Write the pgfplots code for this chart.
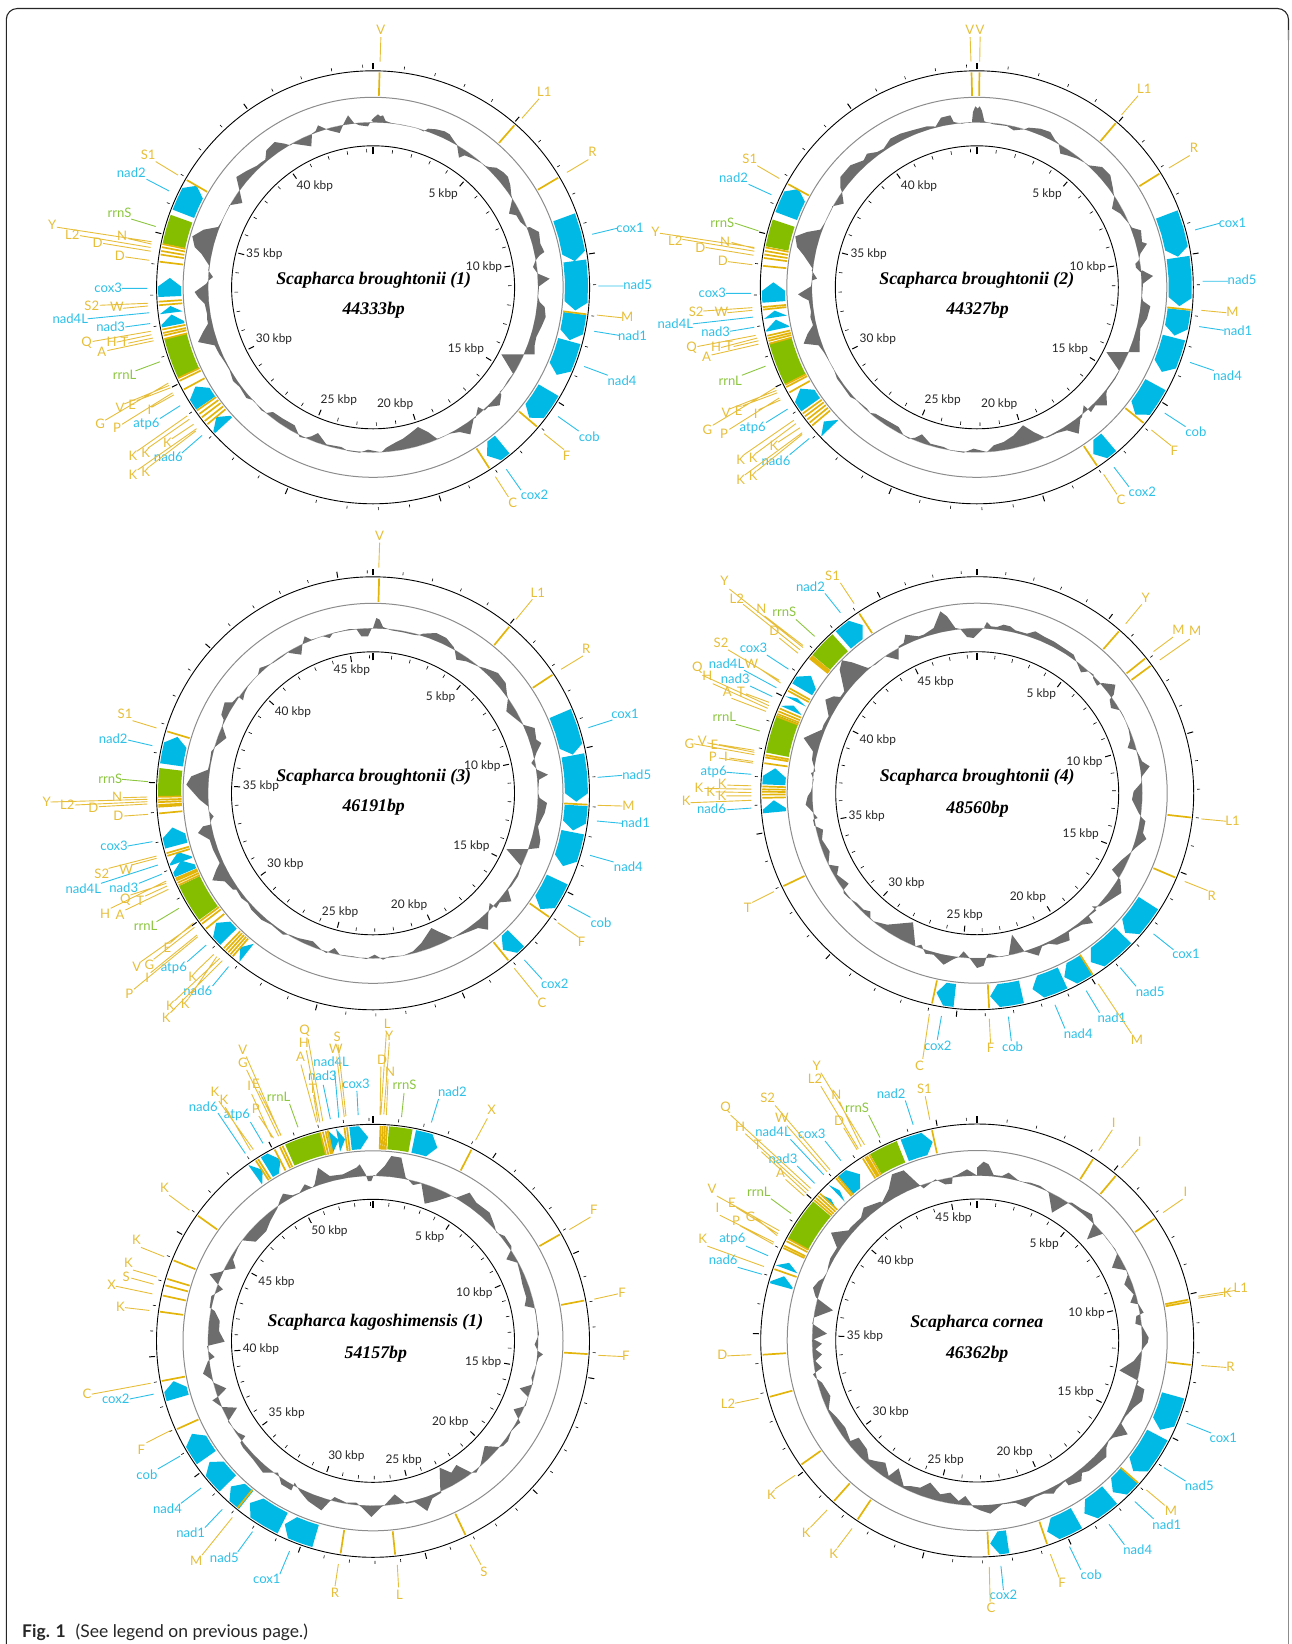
\documentclass[border=0pt]{standalone}
\usepackage{fontspec}
\setmainfont{Lato}
\newfontfamily\ttlfont{Liberation Serif}
\usepackage{pgfplots}
\pgfplotsset{compat=1.18}

\definecolor{mycyan}{HTML}{00B9E4}
\definecolor{mygreen}{HTML}{85BE00}
\definecolor{mygold}{HTML}{E3B40A}
\definecolor{labc}{HTML}{2CC0E8}
\definecolor{labg}{HTML}{E6BE3A}
\definecolor{labn}{HTML}{8CC63F}
\definecolor{ringgray}{HTML}{6D6D6D}

\tikzset{
  lb/.style={font=\fontsize{13.1}{14}\selectfont,inner sep=0pt},
  kb/.style={font=\fontsize{11.9}{14}\selectfont,inner sep=0pt,text=black!85},
  ttl/.style={font=\fontsize{17.8}{20}\selectfont\ttlfont\bfseries\itshape,inner sep=0pt,text=black},
}
\pgfplotsset{
  tickmin/.style={draw=black,line width=.6pt},
  tickmaj/.style={draw=black,line width=1pt},
  tickzero/.style={draw=black,line width=2pt},
  gc/.style={fill=ringgray,draw=none},
  genefill/.style={fill=mycyan,draw=none},
  rnafill/.style={fill=mygreen,draw=none},
  trnaline/.style={draw=mygold,line width=1.7pt},
  leadg/.style={draw=labg,line width=.9pt},
  leadc/.style={draw=labc,line width=.9pt},
  leadn/.style={draw=labn,line width=.9pt},
}

% centre x, centre y, crop x, crop y, crop scale x, crop scale y, length in kbp
\newcommand\setpanel[7]{%
  \gdef\cx{#1}\gdef\cy{#2}\gdef\ox{#3}\gdef\oy{#4}\gdef\sx{#5}\gdef\sy{#6}\gdef\glen{#7}}
\gdef\pts{}
\gdef\ldg{}\gdef\ldc{}\gdef\ldn{}
\newcommand\emit[1]{\edef\tmp{\noexpand\addplot[#1] coordinates {\pts};}\tmp\gdef\pts{}}
\newcommand\addpol[2]{%
  \pgfmathsetmacro\px{\cx+(#2)*sin(#1)}%
  \pgfmathsetmacro\py{\cy-(#2)*cos(#1)}%
  \xdef\pts{\pts(\px,\py)}}
\newcommand\brk{\xdef\pts{\pts(nan,nan)}}
\newcommand\getang[2]{%
  \pgfmathsetmacro\ptx{\ox+#1/\sx}\pgfmathsetmacro\pty{\oy+#2/\sy}%
  \pgfmathsetmacro\dxx{\ptx-\cx}\pgfmathsetmacro\dyy{\cy-\pty}%
  \pgfmathsetmacro\res{atan2(\dxx,\dyy)}%
  \pgfmathsetmacro\res{\res<0 ? \res+360 : \res}}

\newcommand\panelbase{%
  \edef\tmp{\noexpand\draw[black,line width=.9pt] (axis cs:\cx,\cy) circle[radius=216.5];
    \noexpand\draw[black!45,line width=1pt] (axis cs:\cx,\cy) circle[radius=190];
    \noexpand\draw[black,line width=.9pt] (axis cs:\cx,\cy) circle[radius=141.5];
    \noexpand\draw[black!25,line width=.6pt] (axis cs:\cx,\cy) circle[radius=165];}\tmp
  \pgfmathtruncatemacro\nk{int(\glen)}%
  \foreach \k in {1,...,\nk}{%
    \pgfmathtruncatemacro\m{mod(\k,5)}%
    \ifnum\m=0\else
      \pgfmathsetmacro\th{\k/\glen*360}%
      \addpol{\th}{135}\addpol{\th}{138.6}\brk
      \addpol{\th}{220}\addpol{\th}{223}\brk
    \fi}%
  \emit{tickmin}%
  \foreach \k in {5,10,...,\nk}{%
    \pgfmathsetmacro\th{\k/\glen*360}%
    \addpol{\th}{133}\addpol{\th}{139}\brk
    \addpol{\th}{218.5}\addpol{\th}{224.5}\brk}%
  \emit{tickmaj}%
  \addpol{0}{133}\addpol{0}{140}\brk\addpol{0}{218}\addpol{0}{224.5}%
  \emit{tickzero}}

% outline of the GC trace, read clockwise from a 3x crop at (#1,#2), closed along the r=165 circle
\newcommand\ring[3]{%
  \gdef\first{}%
  \foreach \a/\b in {#3}{%
    \pgfmathsetmacro\px{#1+\a/3}\pgfmathsetmacro\py{#2+\b/3}%
    \ifx\first\empty
      \pgfmathsetmacro\tz{atan2(\px-\cx,\cy-\py)}\xdef\first{\tz}%
    \fi
    \xdef\pts{\pts(\px,\py)}}%
  \foreach \i in {0,...,72}{%
    \pgfmathsetmacro\t{\first-5*\i}\addpol{\t}{165}}%
  \emit{gc}}

\newcommand\gene[4]{%
  \getang{#1}{#2}\let\aa\res
  \getang{#3}{#4}\let\ab\res
  \pgfmathsetmacro\ab{\ab<\aa ? \ab+360 : \ab}%
  \pgfmathsetmacro\as{max(\ab-2.4,\aa)}%
  \pgfmathsetmacro\am{(\aa+\as)/2}%
  \addpol{\aa}{192}\addpol{\aa}{215}\addpol{\am}{215}\addpol{\as}{215}%
  \addpol{\ab}{203.5}\addpol{\as}{192}\addpol{\am}{192}%
  \emit{genefill}}

\newcommand\rrna[4]{%
  \getang{#1}{#2}\let\aa\res
  \getang{#3}{#4}\let\ab\res
  \pgfmathsetmacro\ab{\ab<\aa ? \ab+360 : \ab}%
  \foreach \i in {0,...,6}{\pgfmathsetmacro\t{\aa+(\ab-\aa)*\i/6}\addpol{\t}{215}}%
  \foreach \i in {6,5,...,0}{\pgfmathsetmacro\t{\aa+(\ab-\aa)*\i/6}\addpol{\t}{192}}%
  \emit{rnafill}}

\newcommand\trnas[1]{%
  \foreach \a/\b in {#1}{%
    \getang{\a}{\b}%
    \addpol{\res}{191.5}\addpol{\res}{215}\brk}%
  \emit{trnaline}}

% colour letter, text, label x, y, leader x1, y1, x2, y2 (all in crop pixels)
\newcommand\lb[8]{%
  \pgfmathsetmacro\lx{\ox+#3/\sx}\pgfmathsetmacro\ly{\oy+#4/\sy}%
  \edef\tmp{\noexpand\node[lb,text=lab#1] at (axis cs:\lx,\ly) {\unexpanded{#2}};}\tmp
  \pgfmathsetmacro\xa{\ox+#5/\sx}\pgfmathsetmacro\ya{\oy+#6/\sy}%
  \pgfmathsetmacro\xb{\ox+#7/\sx}\pgfmathsetmacro\yb{\oy+#8/\sy}%
  \expandafter\xdef\csname ld#1\endcsname{\csname ld#1\endcsname(\xa,\ya)(\xb,\yb)(nan,nan)}}
\newcommand\flushleads{%
  \edef\tmp{\noexpand\addplot[leadg] coordinates {\ldg};
    \noexpand\addplot[leadc] coordinates {\ldc};
    \noexpand\addplot[leadn] coordinates {\ldn};}\tmp
  \gdef\ldg{}\gdef\ldc{}\gdef\ldn{}}
\newcommand\kbl[3]{%
  \pgfmathsetmacro\lx{\ox+#2/\sx}\pgfmathsetmacro\ly{\oy+#3/\sy}%
  \edef\tmp{\noexpand\node[kb] at (axis cs:\lx,\ly) {#1 kbp};}\tmp}
\newcommand\ttlb[3]{%
  \pgfmathsetmacro\lx{\ox+#2/\sx}\pgfmathsetmacro\ly{\oy+#3/\sy}%
  \edef\tmp{\noexpand\node[ttl] at (axis cs:\lx,\ly) {\unexpanded{#1}};}\tmp}

\begin{document}
\begin{tikzpicture}
\useasboundingbox (0,0) rectangle (1292pt,1644pt);
\begin{axis}[
    anchor=south west,at={(0,0)},
    scale only axis,width=1292pt,height=1644pt,
    xmin=0,xmax=1292,ymin=0,ymax=1644,y dir=reverse,
    hide axis,clip=false,unbounded coords=jump,
  ]
\draw[black!85,line width=1.1pt,rounded corners=11pt]
  (axis cs:6.3,1644) -- (axis cs:6.3,8.5) -- (axis cs:1288.5,8.5) -- (axis cs:1288.5,40);
\draw[black!45,line width=1pt] (axis cs:1288.5,30) -- (axis cs:1288.5,1644);

%% panel 1
\setpanel{373.1}{287.3}{0}{0}{2.376}{2.958}{44.333}
\panelbase
\ring{183}{97}{570/75,565/70,575/60,585/52,592/58,600/55,608/72,625/78,660/85,700/93,722/103,
  735/95,760/97,785/103,800/112,812/130,818/138,822/143,828/182,845/175,870/185,895/198,908/207,
  918/210,940/212,960/225,975/240,982/265,985/295,988/305,978/350,1000/355,1012/375,1032/392,
  1040/390,1068/405,1072/440,1084/465,1070/475,1058/490,1050/510,1062/527,1065/530,1100/545,1068/568,
  1065/600,1070/615,1085/630,1088/660,1075/690,1060/720,1055/745,1055/772,1025/772,955/772,990/830,
  975/850,960/875,950/885,955/893,950/925,915/930,905/940,885/930,878/962,872/965,862/1012,830/1005,
  800/1010,772/1022,762/1025,735/1005,705/990,680/1010,660/1025,640/1035,610/1052,595/1066,
  555/1058,530/1067,495/1062,475/1050,430/1042,405/1008,385/1018,365/1023,350/1020,335/985,300/965,
  270/945,250/948,235/940,212/910,190/903,170/870,150/852,140/820,125/795,108/770,95/745,45/735,
  60/705,75/680,72/665,72/650,65/620,45/600,35/585,70/560,75/552,90/540,76/520,78/505,55/470,35/450,
  28/418,62/398,105/390,115/375,130/345,140/325,137/325,178/318,170/282,167/270,160/240,190/222,
  222/206,232/198,247/188,250/160,275/135,305/140,322/145,330/140,385/148,387/110,398/102,405/85,
  438/100,470/108,482/80,495/55,513/78,530/85,555/88,562/75}
\gene{1342}{642}{1362}{773}\gene{1366}{772}{1365}{918}\gene{1363}{927}{1350}{1005}
\gene{1350}{1008}{1325}{1110}\gene{1295}{1148}{1262}{1240}\gene{1192}{1313}{1165}{1362}
\gene{491}{1190}{462}{1145}\gene{532}{1257}{503}{1245}\gene{404}{877}{402}{822}
\gene{408}{925}{407}{905}\gene{412}{962}{410}{930}\gene{435}{632}{468}{550}
\rrna{445}{1105}{415}{995}\rrna{413}{727}{427}{645}
\trnas{901/250,1203/398,1300/545,1364/925,1255/1240,1147/1355,468/550,
  410/728,410/737,410/748,408/758,405/778,405/890,405/900,
  413/968,413/978,415/985,415/995,450/1103,454/1110,462/1135,
  490/1195,495/1205,500/1215,507/1225,512/1235}
\lb{g}{V}{905}{88}{905}{110}{903}{182}
\lb{g}{L1}{1293}{272}{1281}{292}{1240}{350}
\lb{g}{R}{1408}{450}{1398}{472}{1347}{510}
\lb{c}{cox1}{1497}{673}{1467}{675}{1407}{693}
\lb{c}{nad5}{1515}{843}{1482}{846}{1422}{846}
\lb{g}{M}{1490}{938}{1478}{940}{1418}{932}
\lb{c}{nad1}{1503}{992}{1471}{992}{1412}{980}
\lb{c}{nad4}{1478}{1125}{1444}{1110}{1388}{1084}
\lb{c}{cob}{1400}{1291}{1375}{1275}{1326}{1232}
\lb{g}{F}{1346}{1347}{1340}{1330}{1293}{1283}
\lb{c}{cox2}{1270}{1463}{1238}{1450}{1203}{1388}
\lb{g}{C}{1218}{1487}{1208}{1470}{1177}{1410}
\lb{g}{S1}{352}{458}{370}{478}{423}{518}
\lb{c}{nad2}{312}{512}{348}{530}{402}{565}
\lb{n}{rrnS}{284}{628}{312}{648}{370}{670}
\lb{g}{Y}{124}{666}{135}{672}{360}{715}
\lb{g}{L2}{172}{693}{190}{697}{358}{732}
\lb{g}{N}{290}{698}{305}{706}{360}{722}
\lb{g}{D}{232}{717}{245}{720}{358}{743}
\lb{g}{D}{285}{758}{298}{760}{355}{770}
\lb{c}{cox3}{257}{852}{290}{853}{350}{853}
\lb{g}{S2}{218}{905}{237}{903}{352}{897}
\lb{g}{W}{278}{908}{292}{912}{352}{905}
\lb{c}{nad4L}{167}{943}{208}{943}{355}{925}
\lb{c}{nad3}{263}{965}{298}{967}{357}{957}
\lb{g}{Q}{206}{1013}{220}{1010}{358}{980}
\lb{g}{H}{265}{1011}{277}{1012}{360}{990}
\lb{g}{T}{296}{1010}{305}{1015}{363}{1000}
\lb{g}{A}{242}{1040}{255}{1037}{365}{1008}
\lb{n}{rrnL}{296}{1110}{322}{1097}{380}{1070}
\lb{g}{G}{238}{1253}{250}{1243}{400}{1133}
\lb{g}{V}{285}{1207}{295}{1195}{402}{1140}
\lb{g}{E}{314}{1198}{325}{1185}{405}{1147}
\lb{g}{P}{278}{1265}{290}{1255}{410}{1162}
\lb{g}{I}{355}{1213}{360}{1205}{413}{1168}
\lb{c}{atp6}{348}{1253}{380}{1238}{428}{1200}
\lb{g}{K}{316}{1347}{325}{1335}{445}{1230}
\lb{g}{K}{346}{1340}{352}{1325}{450}{1240}
\lb{g}{K}{398}{1310}{408}{1298}{460}{1255}
\lb{g}{K}{316}{1405}{327}{1390}{467}{1268}
\lb{g}{K}{346}{1395}{355}{1380}{465}{1275}
\lb{c}{nad6}{400}{1350}{432}{1340}{480}{1288}
\flushleads
\kbl{40}{748}{551}\kbl{5}{1053}{573}\kbl{35}{628}{753}\kbl{10}{1150}{789}
\kbl{30}{651}{1002}\kbl{15}{1107}{1033}\kbl{25}{805}{1183}\kbl{20}{939}{1195}
\ttlb{Scapharca broughtonii (1)}{888}{828}\ttlb{44333bp}{888}{918}

%% panel 2
\setpanel{976.8}{287.3}{640}{0}{2.405}{2.958}{44.327}
\panelbase
\ring{787}{97}{555/73,558/45,565/28,572/35,578/28,585/42,592/73,620/82,660/87,680/100,712/97,
  725/92,760/95,790/105,805/130,815/140,820/170,840/175,870/185,895/198,905/205,945/210,970/235,
  978/275,980/290,982/300,975/335,1000/350,1030/385,1035/392,1062/400,1065/435,1080/440,1060/470,
  1055/490,1045/500,1047/512,1060/525,1065/520,1098/537,1068/560,1065/600,1068/612,1090/628,1080/665,
  1060/695,1058/735,1058/765,1030/765,958/765,997/822,985/845,960/880,958/890,960/925,925/925,912/945,
  890/925,885/960,880/965,875/1010,840/1000,810/1008,780/1022,775/1022,740/1005,708/985,680/1015,
  650/1035,620/1045,600/1065,560/1055,530/1067,490/1060,470/1050,430/1040,405/1012,385/1022,365/1025,
  350/1015,335/990,300/970,265/950,250/948,240/935,210/910,190/900,165/865,150/845,140/815,125/790,
  110/765,95/745,50/740,62/710,78/685,70/660,72/645,65/610,45/600,33/592,72/568,75/550,90/545,74/520,
  77/515,50/475,30/450,25/418,60/405,100/398,115/375,128/350,135/335,135/328,170/320,165/285,160/272,
  160/240,190/205,230/190,240/170,270/165,290/155,310/125,340/110,375/100,420/88,440/88,445/90,462/62,
  490/55,500/75,525/80,550/75}
\gene{1270}{633}{1290}{760}\gene{1293}{762}{1293}{905}\gene{1292}{915}{1287}{993}
\gene{1282}{998}{1255}{1100}\gene{1240}{1138}{1195}{1230}\gene{1127}{1308}{1100}{1360}
\gene{413}{1195}{385}{1150}\gene{458}{1265}{430}{1260}\gene{322}{893}{320}{835}
\gene{328}{938}{330}{918}\gene{331}{974}{330}{945}\gene{354}{640}{390}{565}
\rrna{375}{1120}{340}{1005}\rrna{330}{735}{345}{660}
\trnas{798/250,816/250,1125/392,1224/533,1297/913,1188/1228,1083/1348,382/562,
  328/738,328/748,327/758,327/768,325/790,325/905,325/912,
  335/985,335/993,336/1000,337/1008,375/1122,378/1128,385/1143,
  412/1205,418/1212,424/1220,430/1228,436/1236}
\lb{g}{V}{793}{88}{794}{110}{796}{182}
\lb{g}{V}{818}{88}{818}{108}{817}{182}
\lb{g}{L1}{1213}{262}{1198}{283}{1158}{340}
\lb{g}{R}{1332}{438}{1322}{460}{1272}{497}
\lb{c}{cox1}{1425}{658}{1395}{660}{1335}{680}
\lb{c}{nad5}{1448}{828}{1414}{832}{1353}{832}
\lb{g}{M}{1425}{923}{1410}{925}{1350}{918}
\lb{c}{nad1}{1438}{977}{1404}{977}{1345}{966}
\lb{c}{nad4}{1413}{1111}{1380}{1096}{1323}{1072}
\lb{c}{cob}{1337}{1278}{1312}{1262}{1262}{1222}
\lb{g}{F}{1285}{1333}{1277}{1318}{1230}{1272}
\lb{c}{cox2}{1208}{1455}{1176}{1440}{1140}{1382}
\lb{g}{C}{1157}{1478}{1147}{1462}{1115}{1403}
\lb{g}{S1}{264}{470}{282}{490}{335}{528}
\lb{c}{nad2}{225}{525}{261}{545}{316}{576}
\lb{n}{rrnS}{198}{660}{228}{660}{285}{683}
\lb{g}{Y}{37}{686}{48}{690}{275}{732}
\lb{g}{L2}{85}{712}{102}{708}{275}{743}
\lb{g}{N}{205}{714}{220}{717}{275}{735}
\lb{g}{D}{145}{734}{158}{732}{273}{755}
\lb{g}{D}{199}{771}{212}{774}{270}{783}
\lb{c}{cox3}{174}{866}{207}{868}{267}{868}
\lb{g}{S2}{135}{921}{152}{920}{270}{910}
\lb{g}{W}{196}{921}{210}{925}{270}{918}
\lb{c}{nad4L}{85}{958}{127}{958}{272}{938}
\lb{c}{nad3}{182}{980}{216}{980}{275}{968}
\lb{g}{Q}{124}{1028}{138}{1025}{278}{992}
\lb{g}{H}{183}{1025}{195}{1028}{282}{1000}
\lb{g}{T}{214}{1023}{225}{1025}{285}{1008}
\lb{g}{A}{160}{1054}{172}{1050}{285}{1018}
\lb{n}{rrnL}{217}{1125}{245}{1110}{302}{1083}
\lb{g}{G}{162}{1270}{175}{1258}{325}{1147}
\lb{g}{V}{207}{1222}{215}{1210}{328}{1155}
\lb{g}{E}{237}{1215}{247}{1200}{330}{1162}
\lb{g}{P}{202}{1282}{215}{1270}{335}{1177}
\lb{g}{I}{278}{1225}{285}{1212}{338}{1183}
\lb{c}{atp6}{271}{1266}{303}{1250}{355}{1210}
\lb{g}{K}{242}{1360}{250}{1345}{370}{1243}
\lb{g}{K}{272}{1353}{280}{1340}{375}{1253}
\lb{g}{K}{322}{1320}{332}{1308}{385}{1265}
\lb{g}{K}{242}{1418}{252}{1405}{390}{1280}
\lb{g}{K}{272}{1408}{282}{1392}{390}{1285}
\lb{c}{nad6}{327}{1362}{360}{1345}{407}{1297}
\flushleads
\kbl{40}{671}{551}\kbl{5}{979}{573}\kbl{35}{550}{753}\kbl{10}{1077}{789}
\kbl{30}{572}{1002}\kbl{15}{1034}{1033}\kbl{25}{728}{1183}\kbl{20}{864}{1195}
\ttlb{Scapharca broughtonii (2)}{810}{828}\ttlb{44327bp}{812}{918}

%% panel 3
\setpanel{373}{793.3}{0}{520}{2.376}{3}{46.191}
\panelbase
\ring{183}{603}{570/75,580/45,590/50,600/72,625/82,660/88,690/95,705/97,720/92,760/90,790/105,812/132,
  815/140,820/170,850/175,885/190,905/195,945/210,968/240,972/275,975/285,970/325,995/345,1020/365,
  1030/368,1055/375,1060/410,1075/420,1060/450,1055/465,1045/480,1060/497,1062/500,1095/515,1068/530,
  1065/570,1070/585,1092/600,1085/630,1065/670,1072/710,1068/735,1040/738,970/738,1015/790,1005/820,
  985/850,975/860,985/895,950/898,940/915,920/900,915/940,915/945,915/980,885/975,860/985,820/1000,
  810/1005,765/985,745/975,715/1020,690/1045,660/1058,620/1060,600/1070,575/1055,550/1068,510/1060,
  470/1055,455/1035,430/1050,415/1040,390/1015,345/1005,320/995,300/995,265/965,235/950,205/920,
  195/900,175/885,160/860,150/860,125/835,88/832,100/800,110/780,90/740,80/710,45/690,60/670,82/665,
  85/650,92/640,78/625,75/610,50/590,10/545,25/520,75/500,80/480,85/445,95/435,92/435,130/405,118/368,
  122/350,115/335,125/298,148/298,165/280,180/292,185/270,195/250,225/215,230/195,245/190,270/180,
  300/160,315/148,320/150,355/155,358/125,365/100,385/110,420/100,440/105,450/90,500/78,520/78,
  535/100,555/100,565/78}
\gene{1332}{580}{1355}{705}\gene{1362}{706}{1368}{845}\gene{1367}{856}{1365}{932}
\gene{1358}{936}{1335}{1037}\gene{1323}{1078}{1285}{1168}\gene{1222}{1250}{1200}{1297}
\gene{543}{1250}{517}{1205}\gene{585}{1300}{563}{1293}\gene{415}{978}{412}{922}
\gene{420}{1030}{408}{1002}\gene{437}{1060}{418}{1027}\gene{410}{735}{420}{650}
\rrna{500}{1175}{447}{1085}\rrna{405}{828}{405}{748}
\trnas{900/210,1192/348,1288/485,1367/852,1281/1170,1189/1292,423/644,
  404/830,404/838,404/845,404/853,404/858,405/877,422/990,425/997,
  442/1062,443/1068,445/1075,447/1082,495/1185,500/1192,510/1205,
  546/1266,551/1272,556/1278,561/1284,566/1290}
\lb{g}{V}{902}{47}{902}{68}{900}{143}
\lb{g}{L1}{1278}{217}{1265}{238}{1226}{298}
\lb{g}{R}{1393}{386}{1385}{408}{1333}{448}
\lb{c}{cox1}{1485}{581}{1455}{600}{1398}{623}
\lb{c}{nad5}{1513}{765}{1478}{766}{1420}{772}
\lb{g}{M}{1493}{857}{1479}{858}{1420}{856}
\lb{c}{nad1}{1510}{909}{1478}{910}{1418}{903}
\lb{c}{nad4}{1493}{1041}{1458}{1026}{1402}{1006}
\lb{c}{cob}{1428}{1208}{1403}{1192}{1350}{1156}
\lb{g}{F}{1382}{1266}{1375}{1252}{1325}{1208}
\lb{c}{cox2}{1318}{1392}{1288}{1378}{1246}{1320}
\lb{g}{C}{1288}{1447}{1278}{1432}{1222}{1345}
\lb{g}{S1}{297}{581}{315}{602}{372}{624}
\lb{c}{nad2}{269}{656}{304}{660}{362}{677}
\lb{n}{rrnS}{262}{777}{290}{778}{352}{785}
\lb{g}{Y}{111}{845}{120}{846}{350}{838}
\lb{g}{N}{278}{830}{292}{833}{350}{831}
\lb{g}{L2}{160}{855}{178}{855}{350}{845}
\lb{g}{D}{222}{863}{235}{860}{350}{852}
\lb{g}{D}{281}{887}{295}{888}{352}{883}
\lb{c}{cox3}{271}{978}{303}{978}{362}{965}
\lb{g}{S2}{242}{1060}{258}{1045}{372}{1008}
\lb{g}{W}{300}{1050}{312}{1035}{372}{1015}
\lb{c}{nad4L}{198}{1106}{240}{1090}{375}{1035}
\lb{c}{nad3}{294}{1103}{330}{1090}{385}{1062}
\lb{g}{Q}{298}{1140}{310}{1125}{395}{1090}
\lb{g}{T}{333}{1142}{345}{1128}{397}{1098}
\lb{g}{H}{250}{1180}{263}{1165}{395}{1083}
\lb{g}{A}{285}{1185}{298}{1170}{400}{1108}
\lb{n}{rrnL}{346}{1218}{372}{1205}{425}{1165}
\lb{g}{E}{398}{1283}{405}{1268}{460}{1208}
\lb{g}{V}{325}{1340}{335}{1325}{455}{1218}
\lb{g}{G}{355}{1333}{365}{1318}{462}{1222}
\lb{c}{atp6}{413}{1343}{445}{1325}{490}{1275}
\lb{g}{I}{350}{1372}{358}{1358}{468}{1245}
\lb{g}{P}{307}{1422}{318}{1408}{470}{1250}
\lb{g}{K}{458}{1370}{465}{1355}{508}{1303}
\lb{c}{nad6}{470}{1412}{505}{1398}{543}{1340}
\lb{g}{K}{440}{1450}{448}{1435}{515}{1310}
\lb{g}{K}{405}{1457}{415}{1442}{522}{1315}
\lb{g}{K}{395}{1492}{405}{1478}{528}{1322}
\flushleads
\kbl{45}{836}{451}\kbl{5}{1047}{532}\kbl{40}{696}{575}\kbl{10}{1146}{737}
\kbl{35}{620}{799}\kbl{15}{1120}{977}\kbl{30}{678}{1031}\kbl{20}{972}{1155}\kbl{25}{808}{1176}
\ttlb{Scapharca broughtonii (3)}{888}{771}\ttlb{46191bp}{888}{863}

%% panel 4
\setpanel{977.2}{793.2}{640}{540}{2.405}{2.958}{48.56}
\panelbase
\ring{787}{603}{592/72,600/57,612/70,630/72,650/65,670/70,685/82,720/92,745/85,770/100,800/115,830/135,
  860/155,868/175,882/208,905/205,920/215,918/225,930/248,945/240,985/245,980/275,968/290,972/315,
  1000/322,1010/340,1025/380,1030/410,1022/435,1048/442,1058/460,1065/475,1088/490,1065/520,1062/540,
  1040/565,1035/590,1055/630,1065/645,1075/655,1068/690,1078/708,1045/735,1035/745,1005/770,975/800,
  995/825,1000/830,1003/870,940/910,915/910,928/922,905/940,918/960,885/965,860/978,845/988,848/1012,
  810/1025,785/1022,765/1030,755/1058,712/1045,675/995,665/1057,640/1062,605/1052,600/1058,590/1088,
  570/1095,550/1068,530/1045,515/1062,500/1068,470/1085,440/1055,415/1052,403/1025,385/1030,378/958,
  300/965,260/955,250/945,250/925,230/920,210/900,185/885,170/870,170/860,185/842,150/815,155/790,
  125/785,125/775,128/745,105/710,108/680,82/668,78/650,92/645,75/625,56/605,62/580,72/565,80/530,
  72/510,85/505,75/470,78/445,50/405,78/392,105/380,110/365,125/340,115/290,140/280,160/282,172/265,
  158/200,165/172,195/178,243/195,265/185,295/160,335/170,335/130,350/120,355/95,395/100,410/95,
  440/75,460/25,480/40,505/75,520/78,540/102,560/105,590/75}
\gene{1220}{1072}{1165}{1160}\gene{1158}{1165}{1085}{1250}\gene{1073}{1256}{1020}{1292}
\gene{1015}{1292}{945}{1333}\gene{917}{1335}{842}{1345}\gene{757}{1348}{712}{1345}
\gene{325}{805}{322}{770}\gene{322}{724}{323}{675}\gene{365}{505}{358}{483}
\gene{375}{478}{368}{462}\gene{392}{443}{400}{392}\gene{490}{297}{530}{242}
\rrna{330}{635}{355}{530}\rrna{436}{362}{480}{302}
\trnas{542/245,420/350,425/358,430/367,437/375,443/385,382/454,377/460,
  358/510,355/518,352/525,350/532,328/642,325/648,327/665,
  322/730,322/738,322/745,322/753,322/762,
  1132/298,1190/375,1205/393,1297/817,1258/983,1073/1255,838/1348,708/1338,368/1010}
\lb{g}{Y}{203}{122}{215}{145}{392}{318}
\lb{g}{L2}{233}{175}{248}{190}{385}{325}
\lb{g}{N}{292}{204}{300}{225}{392}{312}
\lb{g}{D}{323}{270}{335}{290}{380}{335}
\lb{n}{rrnS}{347}{212}{375}{235}{420}{285}
\lb{g}{S1}{463}{105}{482}{127}{515}{188}
\lb{c}{nad2}{410}{137}{445}{158}{482}{215}
\lb{g}{S2}{195}{305}{212}{325}{335}{415}
\lb{c}{cox3}{273}{320}{305}{340}{357}{382}
\lb{c}{nad4L}{208}{367}{250}{385}{328}{437}
\lb{g}{W}{268}{367}{285}{378}{338}{423}
\lb{c}{nad3}{229}{411}{265}{432}{318}{463}
\lb{g}{Q}{138}{378}{150}{400}{310}{490}
\lb{g}{H}{162}{402}{175}{425}{307}{498}
\lb{g}{T}{243}{450}{255}{455}{310}{480}
\lb{g}{A}{210}{448}{220}{468}{303}{507}
\lb{n}{rrnL}{203}{523}{230}{545}{288}{565}
\lb{g}{G}{119}{603}{130}{603}{275}{635}
\lb{g}{V}{150}{595}{162}{600}{275}{628}
\lb{g}{E}{179}{607}{190}{605}{275}{622}
\lb{g}{I}{207}{640}{215}{645}{272}{655}
\lb{g}{P}{175}{642}{190}{645}{272}{660}
\lb{c}{atp6}{177}{685}{208}{687}{268}{693}
\lb{g}{K}{198}{722}{210}{725}{267}{727}
\lb{g}{K}{142}{733}{155}{735}{268}{737}
\lb{g}{K}{170}{745}{182}{745}{268}{747}
\lb{g}{K}{197}{758}{208}{757}{268}{757}
\lb{g}{K}{111}{772}{122}{777}{268}{770}
\lb{c}{nad6}{172}{795}{208}{798}{268}{793}
\lb{g}{Y}{1216}{170}{1207}{190}{1168}{248}
\lb{g}{M}{1295}{265}{1282}{287}{1235}{330}
\lb{g}{M}{1335}{270}{1322}{293}{1250}{355}
\lb{g}{L1}{1425}{830}{1410}{832}{1350}{825}
\lb{g}{R}{1375}{1053}{1365}{1037}{1310}{1010}
\lb{c}{cox1}{1313}{1225}{1283}{1212}{1235}{1165}
\lb{c}{nad5}{1227}{1337}{1193}{1320}{1155}{1265}
\lb{c}{nad1}{1135}{1413}{1105}{1398}{1073}{1333}
\lb{g}{M}{1195}{1477}{1182}{1460}{1102}{1313}
\lb{c}{nad4}{1054}{1460}{1022}{1445}{998}{1375}
\lb{c}{cob}{896}{1498}{893}{1482}{886}{1410}
\lb{g}{F}{843}{1503}{843}{1488}{840}{1416}
\lb{c}{cox2}{716}{1497}{715}{1478}{725}{1408}
\lb{g}{C}{672}{1555}{680}{1535}{696}{1402}
\lb{g}{T}{259}{1087}{270}{1072}{322}{1040}
\flushleads
\kbl{45}{711}{419}\kbl{5}{965}{457}\kbl{40}{572}{592}\kbl{10}{1069}{657}
\kbl{35}{545}{817}\kbl{15}{1060}{870}\kbl{30}{641}{1014}\kbl{20}{933}{1055}\kbl{25}{781}{1111}
\ttlb{Scapharca broughtonii (4)}{811}{701}\ttlb{48560bp}{812}{795}

%% panel 5
\setpanel{373}{1340.8}{0}{1010}{2.376}{2.473}{54.157}
\panelbase
\ring{183}{1151}{580/70,605/45,625/15,655/20,668/80,675/85,690/102,715/97,725/158,760/150,805/135,
  820/140,860/125,880/155,920/185,935/225,940/245,965/255,985/285,985/295,970/325,1003/335,1012/370,
  1018/400,1030/440,1025/465,1057/472,1060/490,1068/550,1055/580,1065/600,1080/610,1067/620,1055/655,
  1045/680,1050/700,1010/712,1035/738,1028/765,992/775,1012/815,1005/820,985/840,975/870,960/885,
  948/888,905/885,893/940,880/965,865/965,820/942,805/965,770/950,772/1018,775/1025,748/1042,733/1080,
  695/1053,670/1058,635/1030,605/1062,595/1068,565/1098,535/1068,520/1055,490/1055,455/1038,443/1048,
  415/1078,375/1050,350/1020,335/995,325/1018,295/1000,285/965,275/965,240/965,210/925,180/890,172/875,
  187/855,165/845,150/830,135/812,162/770,118/768,112/765,88/748,108/735,130/712,92/695,85/685,60/668,
  75/630,95/618,76/600,72/585,125/572,108/540,110/510,95/480,80/470,85/435,120/415,100/395,80/370,
  115/362,122/358,158/352,150/325,165/290,178/268,218/272,250/240,262/210,283/172,290/150,300/128,
  328/133,350/125,365/100,388/110,395/100,405/50,440/75,480/70,520/50,530/40,548/70,555/90,565/90,
  572/72}
\gene{983}{325}{1040}{338}\gene{833}{318}{875}{318}\gene{803}{320}{820}{320}
\gene{783}{325}{805}{323}\gene{635}{390}{668}{372}\gene{608}{410}{627}{400}
\gene{420}{960}{412}{918}\gene{490}{1107}{447}{1053}\gene{540}{1172}{495}{1120}
\gene{586}{1210}{549}{1178}\gene{672}{1268}{592}{1222}\gene{750}{1300}{675}{1275}
\rrna{922}{320}{975}{325}\rrna{690}{362}{767}{332}
\trnas{903/318,908/318,913/318,918/318,822/320,828/320,768/332,774/331,780/329,785/328,
  676/362,682/360,664/368,622/395,628/393,1108/370,1305/570,1360/724,1367/849,1093/1270,
  936/1318,814/1312,585/1205,445/1025,412/912,438/630,420/672,418/688,413/712,408/750,492/525}
\lb{g}{A}{714}{115}{715}{135}{752}{278}
\lb{g}{H}{722}{82}{728}{100}{760}{278}
\lb{g}{Q}{724}{52}{732}{72}{767}{275}
\lb{g}{T}{743}{195}{745}{210}{755}{275}
\lb{g}{V}{577}{98}{585}{115}{667}{310}
\lb{g}{G}{577}{130}{586}{148}{662}{312}
\lb{g}{E}{608}{183}{615}{200}{668}{310}
\lb{g}{I}{592}{188}{598}{208}{645}{315}
\lb{g}{P}{608}{245}{615}{262}{650}{317}
\lb{g}{K}{511}{203}{520}{225}{602}{345}
\lb{g}{K}{532}{222}{535}{240}{595}{347}
\lb{c}{nad6}{483}{239}{518}{255}{583}{355}
\lb{c}{atp6}{563}{260}{595}{277}{625}{330}
\lb{n}{rrnL}{662}{215}{688}{232}{708}{290}
\lb{c}{nad3}{766}{162}{768}{185}{785}{270}
\lb{c}{nad4L}{787}{129}{795}{150}{805}{267}
\lb{g}{S}{801}{67}{803}{85}{822}{262}
\lb{g}{W}{798}{97}{800}{115}{818}{265}
\lb{c}{cox3}{846}{182}{848}{200}{851}{260}
\lb{g}{L}{920}{33}{918}{55}{905}{258}
\lb{g}{Y}{925}{63}{925}{80}{912}{258}
\lb{g}{D}{908}{122}{905}{140}{903}{260}
\lb{g}{N}{927}{152}{922}{170}{918}{260}
\lb{n}{rrnS}{961}{185}{960}{205}{954}{265}
\lb{c}{nad2}{1075}{202}{1042}{220}{1025}{278}
\lb{g}{X}{1168}{248}{1158}{268}{1130}{322}
\lb{g}{F}{1411}{494}{1403}{512}{1353}{543}
\lb{g}{F}{1478}{699}{1468}{702}{1412}{715}
\lb{g}{F}{1487}{855}{1480}{857}{1422}{854}
\lb{g}{S}{1150}{1390}{1143}{1372}{1117}{1322}
\lb{g}{L}{949}{1445}{947}{1428}{944}{1372}
\lb{g}{R}{796}{1442}{796}{1425}{804}{1370}
\lb{c}{cox1}{634}{1407}{665}{1395}{688}{1338}
\lb{c}{nad5}{533}{1354}{565}{1340}{600}{1290}
\lb{g}{M}{466}{1361}{480}{1348}{552}{1255}
\lb{c}{nad1}{453}{1292}{487}{1280}{528}{1235}
\lb{c}{nad4}{398}{1234}{430}{1220}{478}{1182}
\lb{c}{cob}{349}{1149}{375}{1135}{428}{1103}
\lb{g}{F}{336}{1087}{348}{1070}{405}{1040}
\lb{c}{cox2}{275}{962}{308}{962}{365}{950}
\lb{g}{C}{207}{950}{218}{950}{358}{923}
\lb{g}{K}{286}{733}{297}{736}{355}{743}
\lb{g}{X}{265}{680}{275}{683}{362}{702}
\lb{g}{S}{300}{660}{312}{663}{365}{678}
\lb{g}{K}{305}{626}{316}{643}{372}{660}
\lb{g}{K}{324}{568}{335}{587}{390}{610}
\lb{g}{K}{391}{440}{402}{458}{450}{495}
\flushleads
\kbl{50}{783}{546}\kbl{5}{1021}{562}\kbl{45}{657}{674}\kbl{10}{1127}{701}\kbl{40}{620}{839}
\kbl{15}{1148}{870}\kbl{35}{681}{997}\kbl{20}{1070}{1020}\kbl{30}{823}{1104}\kbl{25}{959}{1113}
\ttlb{Scapharca kagoshimensis (1)}{892}{773}\ttlb{54157bp}{893}{852}

%% panel 6
\setpanel{977.2}{1340.5}{640}{1040}{2.405}{2.596}{46.362}
\panelbase
\ring{787}{1151}{570/50,590/32,605/40,620/72,645/75,665/65,690/85,700/92,730/95,760/105,778/118,785/125,
  795/185,845/155,855/155,885/175,915/190,920/215,900/265,948/248,960/265,985/295,990/310,975/350,
  1018/358,1022/372,1012/400,1040/430,1030/455,1055/460,1070/485,1048/495,1045/518,1065/525,1085/560,
  1082/575,1070/590,1065/598,1040/630,997/658,1055/690,1050/702,1072/715,1065/750,1040/770,1015/797,
  1003/818,1022/850,978/860,965/870,958/890,958/918,925/945,905/960,885/965,883/990,845/1003,835/990,
  808/1015,800/1028,770/1028,745/1038,730/1050,715/1068,685/1055,645/1060,610/1088,580/1078,558/1068,
  555/1062,535/1035,515/1050,490/1025,460/1030,430/995,400/1010,370/1005,350/1005,335/952,305/975,
  295/935,265/930,245/925,240/895,215/860,190/870,175/830,150/800,125/775,130/735,105/695,85/680,
  78/670,105/650,85/630,105/610,85/595,105/578,80/565,120/548,76/518,80/500,138/478,88/440,85/435,
  78/410,95/390,108/382,120/365,125/340,130/322,150/290,132/245,185/238,190/230,222/200,230/170,
  280/152,285/155,305/115,315/70,350/58,395/100,410/112,445/85,475/100,495/98,497/76,510/72,540/55}
\gene{638}{290}{705}{270}\gene{495}{378}{522}{338}\gene{482}{408}{473}{382}
\gene{462}{430}{445}{398}\gene{352}{595}{335}{568}\gene{342}{640}{343}{612}
\gene{1280}{922}{1238}{1005}\gene{1245}{1026}{1195}{1127}\gene{1177}{1132}{1145}{1183}
\gene{1130}{1182}{1078}{1245}\gene{1050}{1242}{985}{1293}\gene{884}{1303}{842}{1303}
\rrna{567}{322}{628}{291}\rrna{380}{530}{447}{447}
\trnas{708/263,553/337,558/333,562/330,567/327,490/382,494/378,443/438,447/433,452/428,457/423,
  375/535,380/530,370/553,373/548,350/605,1073/337,1125/377,1213/482,1290/680,1290/686,
  1297/840,1177/1130,970/1280,837/1305,323/815,340/918,417/1080,487/1172,540/1218}
\lb{g}{S1}{684}{126}{686}{146}{697}{207}
\lb{c}{nad2}{604}{139}{638}{157}{657}{220}
\lb{n}{rrnS}{522}{175}{550}{195}{577}{253}
\lb{g}{Y}{425}{66}{435}{85}{540}{272}
\lb{g}{L2}{421}{100}{435}{120}{525}{282}
\lb{g}{N}{472}{143}{480}{160}{532}{277}
\lb{g}{D}{479}{210}{490}{228}{522}{285}
\lb{c}{cox3}{413}{244}{445}{262}{483}{313}
\lb{g}{S2}{307}{150}{325}{170}{457}{337}
\lb{g}{W}{341}{203}{353}{222}{450}{342}
\lb{c}{nad4L}{320}{239}{362}{258}{442}{350}
\lb{g}{Q}{206}{176}{218}{195}{410}{385}
\lb{g}{H}{241}{226}{253}{243}{405}{392}
\lb{g}{T}{283}{272}{292}{290}{400}{398}
\lb{c}{nad3}{344}{309}{378}{327}{420}{372}
\lb{g}{A}{338}{344}{350}{362}{395}{405}
\lb{n}{rrnL}{286}{394}{315}{412}{363}{450}
\lb{g}{V}{173}{386}{185}{405}{335}{495}
\lb{g}{E}{221}{423}{232}{435}{332}{503}
\lb{g}{G}{266}{458}{278}{462}{330}{508}
\lb{g}{I}{186}{436}{192}{455}{322}{525}
\lb{g}{P}{231}{470}{240}{482}{320}{530}
\lb{g}{K}{151}{516}{162}{535}{298}{588}
\lb{c}{atp6}{222}{516}{255}{535}{308}{560}
\lb{c}{nad6}{200}{570}{235}{590}{293}{608}
\lb{g}{I}{1139}{214}{1136}{233}{1103}{287}
\lb{g}{I}{1202}{264}{1198}{283}{1158}{332}
\lb{g}{I}{1312}{393}{1305}{413}{1258}{448}
\lb{g}{L1}{1445}{643}{1432}{650}{1343}{665}
\lb{g}{K}{1412}{656}{1402}{660}{1343}{670}
\lb{g}{R}{1420}{848}{1410}{850}{1350}{845}
\lb{c}{cox1}{1403}{1032}{1373}{1020}{1315}{995}
\lb{c}{nad5}{1345}{1158}{1312}{1145}{1260}{1110}
\lb{g}{M}{1277}{1223}{1262}{1208}{1218}{1168}
\lb{c}{nad1}{1267}{1258}{1235}{1243}{1190}{1198}
\lb{c}{nad4}{1197}{1322}{1165}{1310}{1128}{1257}
\lb{c}{cob}{1085}{1387}{1060}{1375}{1033}{1315}
\lb{g}{F}{1015}{1408}{1008}{1395}{987}{1335}
\lb{c}{cox2}{874}{1441}{874}{1428}{868}{1365}
\lb{g}{C}{844}{1475}{842}{1458}{840}{1368}
\lb{g}{K}{316}{1180}{325}{1165}{373}{1130}
\lb{g}{K}{400}{1280}{410}{1265}{450}{1220}
\lb{g}{K}{466}{1335}{475}{1318}{510}{1268}
\lb{g}{D}{198}{818}{210}{820}{268}{817}
\lb{g}{L2}{212}{945}{228}{943}{285}{930}
\flushleads
\kbl{45}{754}{463}\kbl{5}{972}{531}\kbl{40}{615}{574}\kbl{10}{1074}{708}\kbl{35}{541}{769}
\kbl{15}{1048}{914}\kbl{30}{603}{967}\kbl{20}{901}{1069}\kbl{25}{735}{1090}
\ttlb{Scapharca cornea}{810}{735}\ttlb{46362bp}{811}{815}

\node[anchor=west,inner sep=0pt,font=\fontsize{17.5}{20}\selectfont,text=black!85]
  at (axis cs:22,1632) {\textbf{Fig. 1}\hspace{10pt}(See legend on previous page.)};
\end{axis}
\end{tikzpicture}
\end{document}
